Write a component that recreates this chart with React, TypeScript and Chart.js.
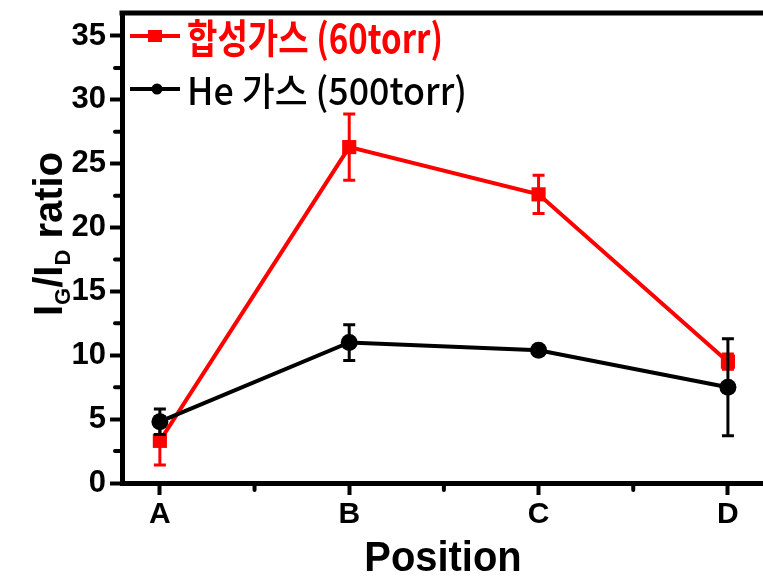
import React, { useEffect, useRef } from 'react';
import { Chart, registerables } from 'chart.js';

Chart.register(...registerables);

const categories = ['A', 'B', 'C', 'D'];
const synGasLabel = '합성가스 (60torr)';
const heGasLabel = 'He 가스 (500torr)';
const synGas = [3.3, 26.3, 22.6, 9.5];
const synGasErr = [1.9, 2.6, 1.5, 0.6];
const heGas = [4.8, 11.0, 10.4, 7.5];
const heGasErr = [1.0, 1.4, 0.2, 3.8];
const yTickValues = [0, 5, 10, 15, 20, 25, 30, 35];
const yMinorTicks = [2.5, 7.5, 12.5, 17.5, 22.5, 27.5, 32.5];
const xMinorTicks = [0.5, 1.5, 2.5];

const RED = '#ff0000';
const BLACK = '#000000';
const LATIN = "'Liberation Sans', Arial, sans-serif";
const KR = "'Noto Sans CJK KR', 'Liberation Sans', sans-serif";

const errorBarPlugin = {
  id: 'errorBars',
  afterDatasetDraw(chart: any, args: any) {
    const ds = chart.data.datasets[args.index];
    const errs: number[] = ds.errors;
    if (!errs) return;
    const { ctx, scales } = chart;
    const xs = scales.x;
    const ys = scales.y;
    ctx.save();
    ctx.strokeStyle = ds.borderColor;
    ctx.lineWidth = 3;
    ds.data.forEach((p: any, i: number) => {
      const x = xs.getPixelForValue(p.x);
      const yt = ys.getPixelForValue(p.y + errs[i]);
      const yb = ys.getPixelForValue(p.y - errs[i]);
      ctx.beginPath();
      ctx.moveTo(x, yt);
      ctx.lineTo(x, yb);
      ctx.moveTo(x - 6, yt);
      ctx.lineTo(x + 6, yt);
      ctx.moveTo(x - 6, yb);
      ctx.lineTo(x + 6, yb);
      ctx.stroke();
    });
    ctx.restore();
  },
};

const decorPlugin = {
  id: 'decor',
  afterDraw(chart: any) {
    const { ctx, chartArea, scales } = chart;
    const xs = scales.x;
    const ys = scales.y;
    ctx.save();
    // top frame
    ctx.fillStyle = BLACK;
    ctx.fillRect(chartArea.left - 2.5, chartArea.top - 2.5, chartArea.right - chartArea.left + 5, 5);
    // minor ticks
    ctx.strokeStyle = BLACK;
    ctx.lineWidth = 4;
    ctx.lineCap = 'round';
    yMinorTicks.forEach((v) => {
      const y = ys.getPixelForValue(v);
      ctx.beginPath();
      ctx.moveTo(chartArea.left - 2, y);
      ctx.lineTo(chartArea.left - 7, y);
      ctx.stroke();
    });
    xMinorTicks.forEach((v) => {
      const x = xs.getPixelForValue(v);
      ctx.beginPath();
      ctx.moveTo(x, chartArea.bottom + 2);
      ctx.lineTo(x, chartArea.bottom + 7);
      ctx.stroke();
    });
    ctx.lineCap = 'butt';

    // x title
    ctx.fillStyle = BLACK;
    ctx.font = `bold 42px ${LATIN}`;
    ctx.textAlign = 'center';
    ctx.textBaseline = 'alphabetic';
    ctx.save();
    ctx.translate(443, 571);
    ctx.scale(0.95, 1);
    ctx.fillText('Position', 0, 0);
    ctx.restore();

    // y title (rotated): I_G/I_D ratio
    ctx.save();
    ctx.translate(62, 316);
    ctx.rotate(-Math.PI / 2);
    ctx.textAlign = 'left';
    const big = `bold 40px ${LATIN}`;
    const small = `bold 22px ${LATIN}`;
    const parts: [string, string, number][] = [
      ['I', big, 0],
      ['G', small, 8],
      ['/I', big, 0],
      ['D', small, 8],
      [' ratio', big, 0],
    ];
    let cx = 0;
    parts.forEach(([t, f, dy]) => {
      ctx.font = f;
      ctx.fillText(t, cx, dy);
      cx += ctx.measureText(t).width;
    });
    ctx.restore();

    // legend
    const drawEntry = (
      y: number,
      color: string,
      label: string,
      weight: string,
      size: number,
      square: boolean,
      textW: number
    ) => {
      ctx.strokeStyle = color;
      ctx.fillStyle = color;
      ctx.lineWidth = 4;
      ctx.beginPath();
      ctx.moveTo(130, y);
      ctx.lineTo(180, y);
      ctx.stroke();
      if (square) {
        ctx.fillRect(148, y - 6, 14, 12);
      } else {
        ctx.beginPath();
        ctx.arc(157, y, 5.5, 0, Math.PI * 2);
        ctx.fill();
      }
      ctx.font = `${weight} ${size}px ${KR}`;
      ctx.textAlign = 'left';
      ctx.textBaseline = 'middle';
      const w = ctx.measureText(label).width;
      ctx.save();
      ctx.translate(187, y + 2);
      ctx.scale(textW / w, 1);
      ctx.fillText(label, 0, 0);
      ctx.restore();
    };
    drawEntry(36, RED, synGasLabel, 'bold', 40, true, 256);
    drawEntry(89, BLACK, heGasLabel, '500', 38, false, 280);
    ctx.restore();
  },
};

export default function App() {
  const ref = useRef<HTMLCanvasElement>(null);
  useEffect(() => {
    if (!ref.current) return;
    const chart = new Chart(ref.current, {
      type: 'line',
      data: {
        datasets: [
          {
            label: heGasLabel,
            data: heGas.map((v, i) => ({ x: i, y: v })),
            errors: heGasErr,
            borderColor: BLACK,
            backgroundColor: BLACK,
            borderWidth: 4,
            pointStyle: 'circle',
            pointRadius: 8.5,
            pointBorderWidth: 0,
            tension: 0,
          } as any,
          {
            label: synGasLabel,
            data: synGas.map((v, i) => ({ x: i, y: v })),
            errors: synGasErr,
            borderColor: RED,
            backgroundColor: RED,
            borderWidth: 4,
            pointStyle: 'rect',
            pointRadius: 10,
            pointBorderWidth: 0,
            tension: 0,
          } as any,
        ],
      },
      options: {
        animation: false,
        responsive: false,
        layout: { padding: { top: 13, right: 0, left: 0, bottom: 0 } },
        plugins: { legend: { display: false }, tooltip: { enabled: false } },
        scales: {
          x: {
            type: 'linear',
            min: -0.2,
            max: 3.18,
            afterBuildTicks: (scale: any) => {
              scale.ticks = categories.map((_, i) => ({ value: i }));
            },
            afterFit: (scale: any) => {
              scale.height = 94;
              scale.paddingLeft = 0;
              scale.paddingRight = 0;
            },
            ticks: {
              callback: (v: any) => categories[Number(v)] ?? '',
              font: { family: LATIN, size: 30, weight: 'bold' },
              color: BLACK,
              padding: 2,
              maxRotation: 0,
              autoSkip: false,
            },
            grid: {
              drawOnChartArea: false,
              tickLength: 12,
              tickWidth: 4,
              tickColor: BLACK,
            },
            border: { display: true, color: BLACK, width: 5 },
          },
          y: {
            type: 'linear',
            min: 0,
            max: 36.8,
            afterBuildTicks: (scale: any) => {
              scale.ticks = yTickValues.map((v) => ({ value: v }));
            },
            afterFit: (scale: any) => {
              scale.width = 122;
              scale.paddingTop = 0;
              scale.paddingBottom = 0;
            },
            ticks: {
              font: { family: LATIN, size: 31, weight: 'bold' },
              color: BLACK,
              padding: 4,
            },
            grid: {
              drawOnChartArea: false,
              tickLength: 12,
              tickWidth: 4,
              tickColor: BLACK,
            },
            border: { display: true, color: BLACK, width: 5 },
          },
        },
      } as any,
      plugins: [errorBarPlugin, decorPlugin],
    });
    return () => chart.destroy();
  }, []);
  return (
    <div style={{ position: 'fixed', left: 0, top: 0, width: 763, height: 577, background: '#fff', overflow: 'hidden' }}>
      <canvas ref={ref} width={772} height={577} style={{ display: 'block' }} />
    </div>
  );
}
